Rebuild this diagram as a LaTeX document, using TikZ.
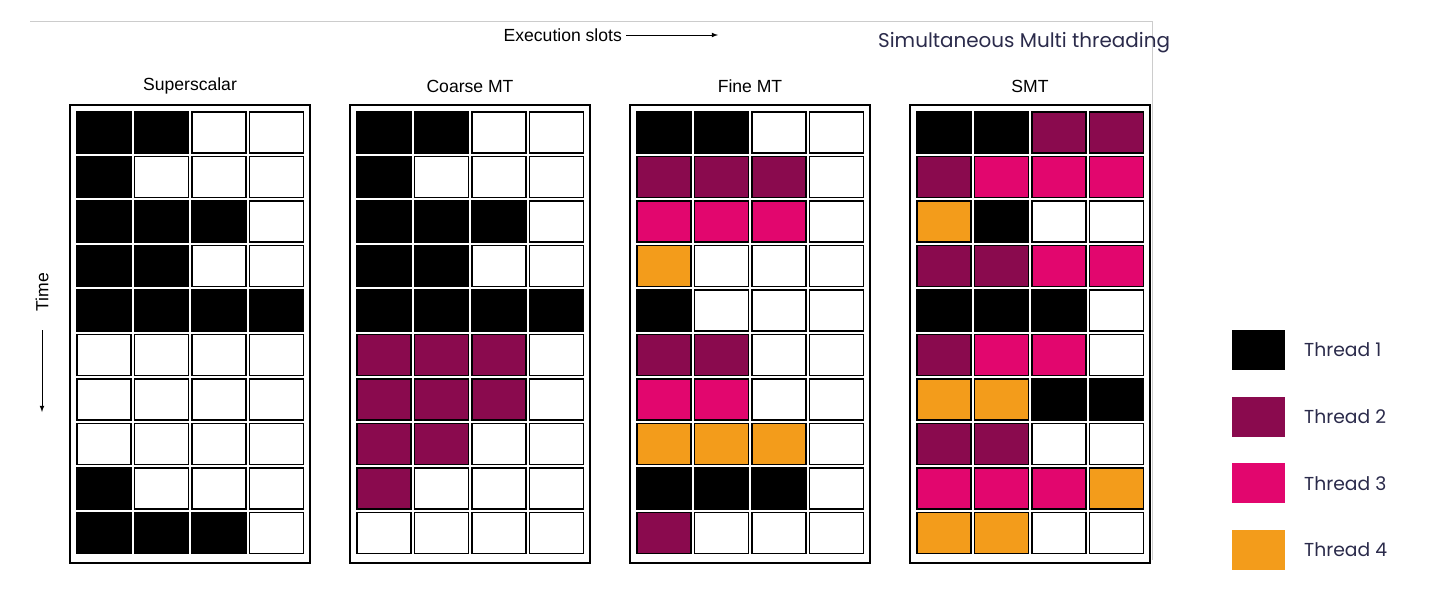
\documentclass[tikz,border=0pt]{standalone}
\usepackage{fontspec}
\setmainfont{Liberation Sans}
\newfontfamily\legendfont{Poppins}
\usetikzlibrary{positioning}

\definecolor{thr0}{HTML}{FFFFFF}
\definecolor{thr1}{HTML}{000000}
\definecolor{thr2}{HTML}{8A0A4E}
\definecolor{thr3}{HTML}{E2066E}
\definecolor{thr4}{HTML}{F39C1B}
\definecolor{navy}{HTML}{2B2B4B}

\tikzset{
  slot/.style={draw=black, line width=1.2pt},
  frame/.style={draw=black, line width=1pt},
  title/.style={font=\fontsize{15}{18}\selectfont},
  legtext/.style={font=\legendfont\fontsize{16}{19}\selectfont, text=navy, anchor=west}
}

\newcommand{\panel}[3]{%
  \draw [frame] (#1,105) rectangle (#1+240,563);
  \node [title] at (#1+120,86) {#2};
  \foreach \row [count=\r] in {#3} {
    \foreach \c [count=\k] in \row {
      \draw [slot, fill=thr\c] (#1+7+57.5*\k-57.5,112+44.5*\r-44.5) rectangle ++(54,41);
    }
  }
}

\begin{document}
\begin{tikzpicture}[x=0.03cm, y=-0.03cm]
\useasboundingbox (0,0) rectangle (1448,597);

% faint page edges
\draw [black!20] (30,21) -- (1152,21) -- (1152,560);

% axes
\node [title, anchor=east] (slots) at (626,35) {Execution slots};
\coordinate (slotsend) at (718,35);
\draw [-latex, thick] (slots.east) -- (slotsend);
\node [title, rotate=90] (time) at (42,292) {Time};
\coordinate (timeend) at (42,412);
\draw [-latex, thick] (42,330) -- (timeend);

\node [legtext, font=\legendfont\fontsize{17}{20}\selectfont] (smt) at (874,43) {Simultaneous Multi threading};

% panels
\panel{70}{Superscalar}{{1,1,0,0},{1,0,0,0},{1,1,1,0},{1,1,0,0},{1,1,1,1},{0,0,0,0},{0,0,0,0},{0,0,0,0},{1,0,0,0},{1,1,1,0}}
\panel{350}{Coarse MT}{{1,1,0,0},{1,0,0,0},{1,1,1,0},{1,1,0,0},{1,1,1,1},{2,2,2,0},{2,2,2,0},{2,2,0,0},{2,0,0,0},{0,0,0,0}}
\panel{630}{Fine MT}{{1,1,0,0},{2,2,2,0},{3,3,3,0},{4,0,0,0},{1,0,0,0},{2,2,0,0},{3,3,0,0},{4,4,4,0},{1,1,1,0},{2,0,0,0}}
\panel{910}{SMT}{{1,1,2,2},{2,3,3,3},{4,1,0,0},{2,2,3,3},{1,1,1,0},{2,3,3,0},{4,4,1,1},{2,2,0,0},{3,3,3,4},{4,4,0,0}}

% legend
\foreach \t [count=\i] in {1,2,3,4} {
  \fill [thr\t] (1232,330+66.7*\i-66.7) rectangle ++(53,40);
  \node [legtext] (leg\t) at (1300,350+66.7*\i-66.7) {Thread \t};
}

\end{tikzpicture}
\end{document}
